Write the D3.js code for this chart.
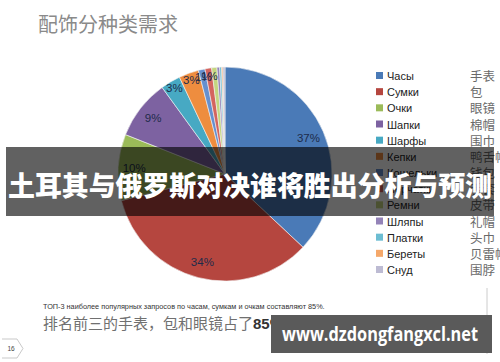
<!DOCTYPE html>
<html>
<head>
<meta charset="utf-8">
<script src="https://cdn.jsdelivr.net/npm/d3@7"></script>
<style>
  body { margin: 0; background: #fff; }
  svg { display: block; }
</style>
</head>
<body>
<div id="chart"></div>
<script>
// данные диаграммы
const categories = ["Часы", "Сумки", "Очки", "Шапки", "Шарфы", "Кепки", "Кошельки", "Перчатки", "Ремни", "Шляпы", "Платки", "Береты", "Снуд"];
const categoriesZh = ["手表", "包", "眼镜", "棉帽", "围巾", "鸭舌帽", "钱包", "手套", "皮带", "礼帽", "头巾", "贝雷帽", "围脖"];
const shares = [37, 34, 10, 9, 3, 3, 1, 1, 0.8, 0.4, 0.3, 0.2, 0.3];
const shareLabels = ["37%", "34%", "10%", "9%", "3%", "3%", "1%", "1%", "", "", "", "", ""];
const colors = ["#4a7ab7", "#b5463f", "#9bbb59", "#7d62a1", "#47a9c3", "#ee8d3f", "#6690cf", "#d4645e", "#c4d680", "#9483b8", "#6cbdd2", "#f5a86a", "#bdbbd3"];

const W = 500, H = 362;
const svg = d3.select("#chart").append("svg")
    .attr("width", W)
    .attr("height", H);

svg.append("rect").attr("width", W).attr("height", H).attr("fill", "#fff");

// заголовок
svg.append("text")
    .attr("x", 38)
    .attr("y", 32)
    .attr("font-family", "'Noto Sans CJK SC', sans-serif")
    .attr("font-size", "20px")
    .attr("fill", "#8a8a8a")
    .text("配饰分种类需求");

// пирог
const cx = 225, cy = 174, r = 107;
const data = categories.map((c, i) => ({ name: c, value: shares[i], label: shareLabels[i], color: colors[i] }));

const pie = d3.pie().sort(null).value(d => d.value);
const arc = d3.arc().innerRadius(0).outerRadius(r);

const g = svg.append("g").attr("transform", `translate(${cx},${cy})`);

g.selectAll("path")
    .data(pie(data))
    .enter()
    .append("path")
    .attr("d", arc)
    .attr("fill", d => d.data.color)
    .attr("stroke", "#f4f4f4")
    .attr("stroke-width", 0.6);

g.selectAll(".lbl")
    .data(pie(data).filter(d => d.data.label))
    .enter()
    .append("text")
    .attr("class", "lbl")
    .attr("transform", d => {
        const rr = d.data.value < 5 ? r * 0.93 : r * 0.85;
        const a = d3.arc().innerRadius(rr).outerRadius(rr);
        return `translate(${a.centroid(d)})`;
    })
    .attr("dy", "0.35em")
    .attr("text-anchor", "middle")
    .attr("font-family", "'Liberation Sans', Arial, sans-serif")
    .attr("font-size", "11.5px")
    .attr("fill", "#1d2b4a")
    .text(d => d.data.label);

// легенда
const legend = svg.append("g");
const rowY = d3.scalePoint().domain(categories).range([76, 270]);

legend.selectAll("rect")
    .data(data)
    .enter()
    .append("rect")
    .attr("x", 376)
    .attr("y", d => rowY(d.name) - 4)
    .attr("width", 7)
    .attr("height", 7)
    .attr("fill", d => d.color);

legend.selectAll(".ru")
    .data(data)
    .enter()
    .append("text")
    .attr("class", "ru")
    .attr("x", 387)
    .attr("y", d => rowY(d.name) + 4)
    .attr("font-family", "'Liberation Sans', Arial, sans-serif")
    .attr("font-size", "11px")
    .attr("fill", "#222")
    .text(d => d.name);

legend.selectAll(".zh")
    .data(categoriesZh)
    .enter()
    .append("text")
    .attr("class", "zh")
    .attr("x", 470)
    .attr("y", (d, i) => rowY(categories[i]) + 5)
    .attr("font-family", "'Noto Sans CJK SC', sans-serif")
    .attr("font-size", "12.5px")
    .attr("fill", "#6a6a6a")
    .text(d => d);

// подпись внизу
svg.append("text")
    .attr("x", 43)
    .attr("y", 309)
    .attr("font-family", "'Liberation Sans', Arial, sans-serif")
    .attr("font-size", "7.3px")
    .attr("fill", "#333")
    .text("ТОП-3 наиболее популярных  запросов по часам, сумкам и очкам составляют 85%.");

const zh = svg.append("text")
    .attr("x", 43)
    .attr("y", 329)
    .attr("font-family", "'Noto Sans CJK SC', sans-serif")
    .attr("font-size", "15px")
    .attr("fill", "#707070");
zh.append("tspan").text("排名前三的手表，包和眼镜占了");
zh.append("tspan").attr("fill", "#333").attr("font-family", "'Liberation Sans', Arial, sans-serif").attr("font-weight", 700).text("85%");
zh.append("tspan").text("。");

// рамка слайда
svg.append("line")
    .attr("x1", 487).attr("x2", 487).attr("y1", 288).attr("y2", 354)
    .attr("stroke", "#ccc").attr("stroke-width", 1);

// номер страницы
svg.append("path")
    .attr("d", "M2,339 L17,339 L23,348.5 L17,358 L2,358")
    .attr("fill", "none")
    .attr("stroke", "#bbb")
    .attr("stroke-width", 0.8);
svg.append("text")
    .attr("x", 11)
    .attr("y", 351)
    .attr("text-anchor", "middle")
    .attr("font-family", "'Liberation Sans', Arial, sans-serif")
    .attr("font-size", "6.5px")
    .attr("fill", "#444")
    .text("16");

// баннер поверх
svg.append("rect")
    .attr("x", 6).attr("y", 147).attr("width", 488).attr("height", 69)
    .attr("fill", "#000").attr("fill-opacity", 0.62);
svg.append("text")
    .attr("x", 8)
    .attr("y", 196)
    .attr("textLength", 484)
    .attr("lengthAdjust", "spacingAndGlyphs")
    .attr("font-family", "'Noto Sans CJK SC', sans-serif")
    .attr("font-weight", 900)
    .attr("font-size", "27px")
    .attr("fill", "#fff")
    .text("土耳其与俄罗斯对决谁将胜出分析与预测");

// водяной знак
svg.append("rect")
    .attr("x", 271).attr("y", 315).attr("width", 221).attr("height", 38)
    .attr("fill", "#5a5a5a");
svg.append("text")
    .attr("x", 282)
    .attr("y", 341)
    .attr("textLength", 196)
    .attr("lengthAdjust", "spacingAndGlyphs")
    .attr("font-family", "'Open Sans', 'DejaVu Sans', sans-serif")
    .attr("font-weight", 700)
    .attr("font-size", "19px")
    .attr("fill", "#fff")
    .text("www.dzdongfangxcl.net");
</script>
</body>
</html>
